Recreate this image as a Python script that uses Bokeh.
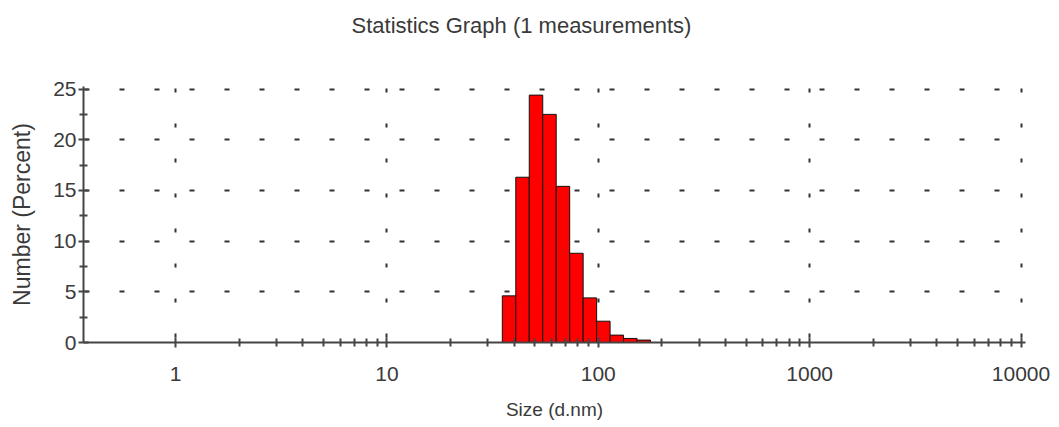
from bokeh.plotting import figure
from bokeh.models import FixedTicker, ColumnDataSource, Title
from bokeh.embed import file_html
from bokeh.resources import INLINE
import numpy as np

# ---- data ----
sizes_nm = [37.84, 43.82, 50.75, 58.77, 68.06, 78.82, 91.28, 105.7, 122.4, 141.8, 164.2]
number_pct = [4.6, 16.3, 24.4, 22.5, 15.4, 8.8, 4.4, 2.1, 0.73, 0.4, 0.24]
x_major_ticks = [1, 10, 100, 1000, 10000]
x_tick_labels = ["1", "10", "100", "1000", "10000"]
y_major_ticks = [0, 5, 10, 15, 20, 25]
y_minor_ticks = [2.5, 7.5, 12.5, 17.5, 22.5]
title_text = "Statistics Graph (1 measurements)"
x_label = "Size (d.nm)"
y_label = "Number (Percent)"

# bins: each bar spans half a log-step either side of its size
s = np.array(sizes_nm)
ratio = s[1] / s[0]
left = s / np.sqrt(ratio)
right = s * np.sqrt(ratio)
src = ColumnDataSource(dict(left=left, right=right, top=number_pct, bottom=[0] * len(s)))

FONT = "Liberation Sans"
TXT = "#3a3a3a"
AX = "#454545"

p = figure(width=1059, height=427, x_axis_type="log", title=None,
           x_range=(0.367, 10500), y_range=(0, 25.25),
           output_backend="svg", toolbar_location=None,
           min_border_left=83, min_border_right=34,
           min_border_top=86, min_border_bottom=85)

p.outline_line_color = None
p.background_fill_color = "white"
p.border_fill_color = "white"

# spacer between frame and title, then the title itself
p.add_layout(Title(text=" ", text_font_size="20px", standoff=20), "above")
p.add_layout(Title(text=title_text, align="left", offset=268, standoff=10,
                   text_font=FONT, text_font_size="22px", text_font_style="normal",
                   text_color=TXT), "above")

p.quad(left="left", right="right", top="top", bottom="bottom", source=src,
       fill_color="#FF0000", line_color="#111111", line_width=1)

# x axis
minor = [m * d for d in [1, 10, 100, 1000] for m in range(2, 10)]
p.xaxis.ticker = FixedTicker(ticks=x_major_ticks, minor_ticks=minor)
p.xaxis.major_label_overrides = {t: l for t, l in zip(x_major_ticks, x_tick_labels)}
p.xaxis.axis_label = x_label
# y axis
p.yaxis.ticker = FixedTicker(ticks=y_major_ticks, minor_ticks=y_minor_ticks)
p.yaxis.axis_label = y_label

for ax in (p.xaxis, p.yaxis):
    ax.axis_line_color = AX
    ax.axis_line_width = 2
    ax.major_tick_line_color = AX
    ax.minor_tick_line_color = AX
    ax.major_tick_line_width = 2
    ax.minor_tick_line_width = 2
    ax.major_tick_in = 5
    ax.major_tick_out = 5
    ax.minor_tick_in = 4
    ax.minor_tick_out = 4
    ax.major_label_text_font = FONT
    ax.major_label_text_font_size = "21px"
    ax.major_label_text_color = TXT
    ax.axis_label_text_font = FONT
    ax.axis_label_text_font_style = "normal"
    ax.axis_label_text_color = TXT

p.xaxis.major_label_standoff = 19
p.xaxis.axis_label_standoff = 15
p.xaxis.axis_label_text_font_size = "19px"
p.yaxis.major_label_standoff = 2
p.yaxis.axis_label_standoff = 15
p.yaxis.axis_label_text_font_size = "23px"

# dotted grid
p.xgrid.ticker = FixedTicker(ticks=x_major_ticks)
p.xgrid.grid_line_color = "#333333"
p.xgrid.grid_line_width = 2
p.xgrid.grid_line_dash = "4 31"
p.xgrid.grid_line_dash_offset = 30
p.ygrid.ticker = FixedTicker(ticks=y_major_ticks)
p.ygrid.grid_line_color = "#333333"
p.ygrid.grid_line_width = 2
p.ygrid.grid_line_dash = "5 30"
p.ygrid.grid_line_dash_offset = 34
p.xgrid.level = "underlay"
p.ygrid.level = "underlay"

open("out.html", "w").write(file_html(p, INLINE))
